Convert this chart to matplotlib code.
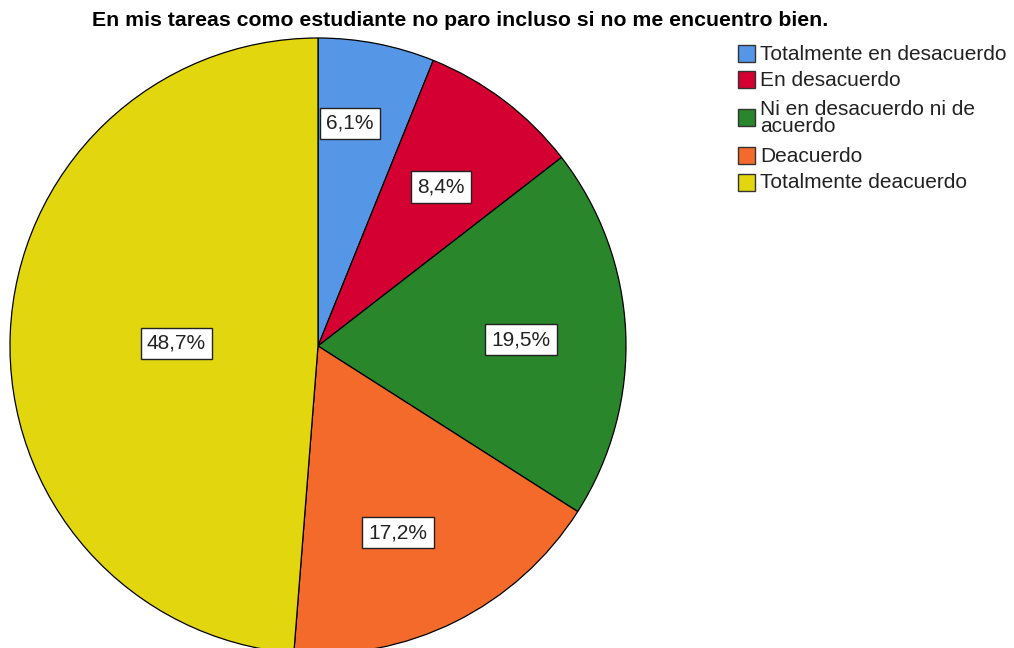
import numpy as np
import matplotlib.pyplot as plt
from matplotlib.patches import Rectangle

plt.rcParams['font.family'] = ['Liberation Sans', 'DejaVu Sans']

# respuestas (%)
categorias = ['Totalmente en desacuerdo', 'En desacuerdo',
              'Ni en desacuerdo ni de\nacuerdo', 'Deacuerdo',
              'Totalmente deacuerdo']
porcentajes = [6.1, 8.4, 19.5, 17.2, 48.7]
colores = ['#5597e6', '#d50032', '#29862a', '#f36a2a', '#e2d60f']
etiquetas = ['6,1%', '8,4%', '19,5%', '17,2%', '48,7%']
# posicion de cada etiqueta: desplazamiento angular (grados) y fraccion del radio
giro_etiqueta = [3, 0, 0, -3, 0]
dist_etiqueta = [0.74, 0.66, 0.66, 0.65, 0.46]

fig = plt.figure(figsize=(10.14, 6.48), dpi=100)
ax = fig.add_axes([0, 0, 1, 1])

cx, cy, r = 318, 302, 308
wedges, _ = ax.pie(porcentajes, colors=colores, startangle=90, counterclock=False,
                   center=(cx, cy), radius=r, normalize=True,
                   wedgeprops=dict(edgecolor='black', linewidth=0.9))
ax.set_xlim(0, 1014)
ax.set_ylim(0, 648)
ax.set_aspect('equal')
ax.axis('off')

for w, txt, g, d in zip(wedges, etiquetas, giro_etiqueta, dist_etiqueta):
    ang = np.deg2rad((w.theta1 + w.theta2) / 2 + g)
    ax.text(cx + d * r * np.cos(ang), cy + d * r * np.sin(ang) - 3, txt,
            ha='center', va='center', fontsize=15, color='#222222',
            bbox=dict(boxstyle='square,pad=0.3', fc='white', ec='#222222', lw=1))

fig.text(460 / 1014, 1 - 20 / 648, 'En mis tareas como estudiante no paro incluso si no me encuentro bien.',
         ha='center', va='center', fontsize=15.3, fontweight='bold')

# leyenda
filas_y = [54, 80, 118, 156, 183]
for cat, col, y in zip(categorias, colores, filas_y):
    fig.patches.append(Rectangle((738 / 1014, 1 - (y + 8) / 648), 17 / 1014, 17 / 648,
                                 transform=fig.transFigure, fc=col, ec='#333333', lw=1))
    fig.text(760 / 1014, 1 - y / 648, cat, ha='left', va='center',
             fontsize=15, color='#222222', linespacing=0.92)

fig.savefig('out.png', dpi=100)
